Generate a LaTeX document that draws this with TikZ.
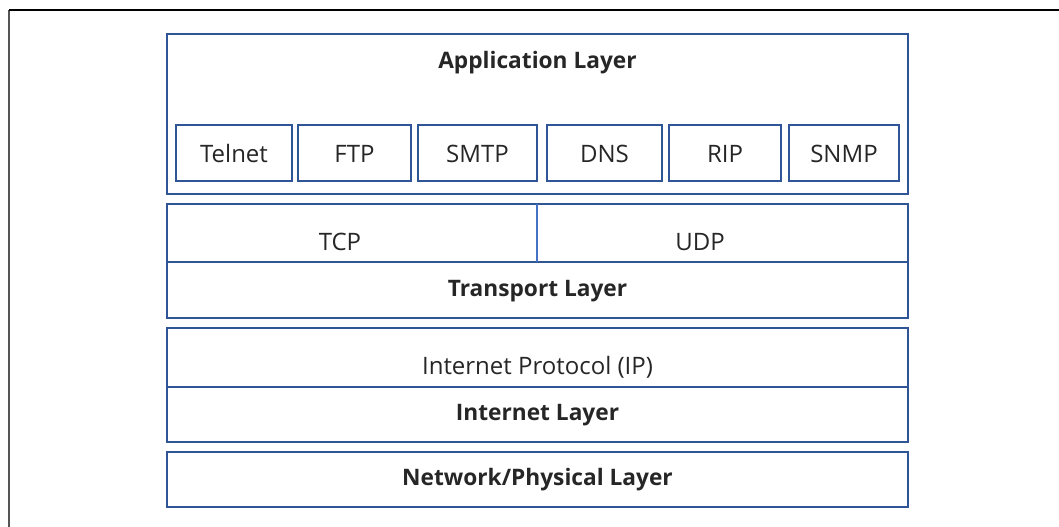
\documentclass[tikz,border=0pt]{standalone}
\usepackage{fontspec}
\setmainfont{Open Sans}
\definecolor{layerblue}{HTML}{2F5597}
\definecolor{splitblue}{HTML}{4472C4}
\definecolor{framegray}{HTML}{555555}
\begin{document}
\begin{tikzpicture}[x=1bp,y=-1bp,
  box/.style={draw=layerblue, line width=2bp, inner sep=0pt, rectangle},
  txt/.style={inner sep=0pt, font=\fontsize{24bp}{28bp}\selectfont, text=black!85},
  btxt/.style={txt, font=\fontsize{22.7bp}{27bp}\selectfont\bfseries},
  divider/.style={draw=layerblue, line width=2bp},
  split/.style={draw=splitblue, line width=1.2bp}
]
\useasboundingbox (0,0) rectangle (1059,527);

% page frame (top and left rules)
\coordinate (fl) at (9,527);
\coordinate (ftl) at (9,10);
\coordinate (ftr) at (1059,10);
\draw[framegray, line width=2bp] (fl) -- (ftl);
\draw[black, line width=2bp] (ftl) -- (ftr);

% application layer
\node[box, minimum width=741bp, minimum height=160bp] (app) at (537.5,114) {};
\node[btxt] (applbl) at (537.5,63) {Application Layer};
\node[box, txt, minimum width=116bp, minimum height=56bp] (telnet) at (234,153.5) {Telnet};
\node[box, txt, minimum width=113bp, minimum height=56bp] (ftp) at (354.5,153.5) {FTP};
\node[box, txt, minimum width=119bp, minimum height=56bp] (smtp) at (477.5,153.5) {SMTP};
\node[box, txt, minimum width=115bp, minimum height=56bp] (dns) at (604.5,153.5) {DNS};
\node[box, txt, minimum width=112bp, minimum height=56bp] (rip) at (725,153.5) {RIP};
\node[box, txt, minimum width=110bp, minimum height=56bp] (snmp) at (844,153.5) {SNMP};

% transport layer
\node[box, minimum width=741bp, minimum height=114bp] (transport) at (537.5,261) {};
\coordinate (tl) at (167,262);
\coordinate (tr) at (908,262);
\draw[divider] (tl) -- (tr);
\coordinate (ttop) at (537,204);
\coordinate (tmid) at (537,262);
\draw[split] (ttop) -- (tmid);
\node[txt] (tcp) at (340,242) {TCP};
\node[txt] (udp) at (700,242) {UDP};
\node[btxt] (translbl) at (537.5,291) {Transport Layer};

% internet layer
\node[box, minimum width=741bp, minimum height=114bp] (internet) at (537.5,385) {};
\coordinate (il) at (167,387);
\coordinate (ir) at (908,387);
\draw[divider] (il) -- (ir);
\node[txt] (ip) at (537.5,367) {Internet Protocol (IP)};
\node[btxt] (inetlbl) at (537.5,415) {Internet Layer};

% network / physical layer
\node[box, btxt, minimum width=741bp, minimum height=55bp] (network) at (537.5,479.5) {Network/Physical Layer};
\end{tikzpicture}
\end{document}
